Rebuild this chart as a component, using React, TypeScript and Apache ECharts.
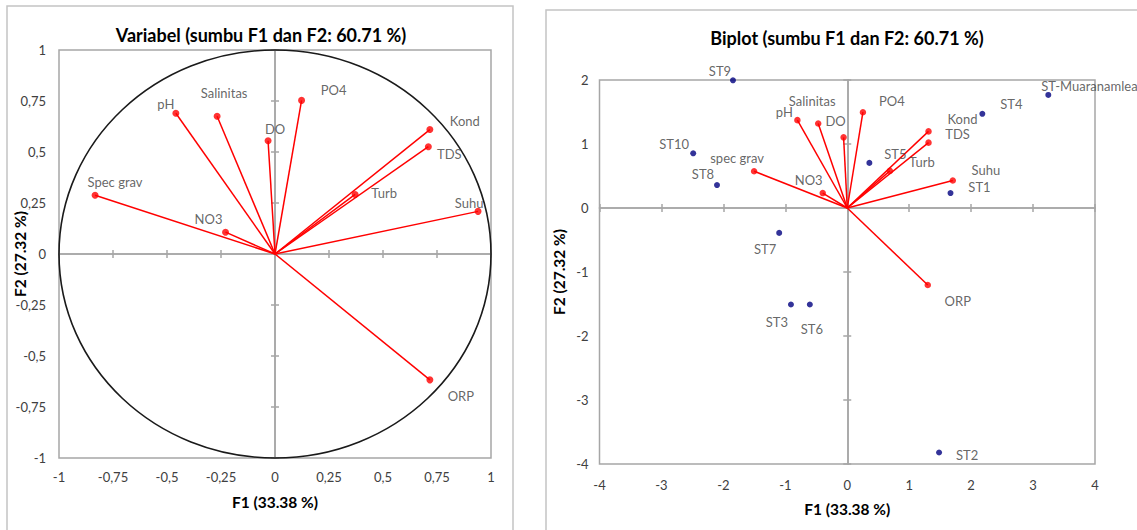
import React, { useEffect, useRef } from "react";
import * as echarts from "echarts";

// ---------- Data ----------
// Correlation circle (Variabel)
const varNames = ["pH", "Salinitas", "DO", "PO4", "Kond", "TDS", "Turb", "Suhu", "Spec grav", "NO3", "ORP"];
const corF1 = [-0.459, -0.268, -0.032, 0.123, 0.717, 0.71, 0.371, 0.94, -0.833, -0.229, 0.717];
const corF2 = [0.69, 0.675, 0.555, 0.753, 0.61, 0.526, 0.292, 0.209, 0.288, 0.107, -0.617];

// Biplot variables
const biVarNames = ["pH", "Salinitas", "DO", "PO4", "Kond", "TDS", "Turb", "Suhu", "spec grav", "NO3", "ORP"];
const biVarF1 = [-0.805, -0.469, -0.059, 0.253, 1.312, 1.312, 0.688, 1.704, -1.504, -0.396, 1.3];
const biVarF2 = [1.373, 1.321, 1.104, 1.497, 1.197, 1.021, 0.58, 0.43, 0.575, 0.233, -1.204];

// Biplot observations
const obsNames = ["ST1", "ST2", "ST3", "ST4", "ST5", "ST6", "ST7", "ST8", "ST9", "ST10", "ST-Muaranamlea"];
const obsF1 = [1.667, 1.482, -0.909, 2.181, 0.357, -0.604, -1.099, -2.103, -1.845, -2.487, 3.246];
const obsF2 = [0.233, -3.82, -1.508, 1.472, 0.705, -1.508, -0.389, 0.358, 1.995, 0.855, 1.767];

// Axis ranges / ticks
const circleMin = -1;
const circleMax = 1;
const circleStep = 0.25;
const biXMin = -4;
const biXMax = 4;
const biYMin = -4;
const biYMax = 2;
const biStep = 1;

const titleLeft = "Variabel (sumbu F1 dan F2: 60.71 %)";
const titleRight = "Biplot (sumbu F1 dan F2: 60.71 %)";
const xTitle = "F1 (33.38 %)";
const yTitle = "F2 (27.32 %)";

// ---------- Label placement (style only) ----------
const corLabelOffsets: number[][] = [
  [-10, -9], [7, -23], [7, -12], [32, -10], [35, -9], [21, 7], [29, -1], [-9, -8], [20, -13], [-17, -13], [31, 16],
];
const biVarLabelOffsets: number[][] = [
  [-13, -8], [-6, -22], [-8, -16], [29, -11], [34, -12], [29, -9], [32, -9], [33, -10.5], [-17, -13], [-14, -13], [30, 16],
];
const obsLabelOffsets: number[][] = [
  [29, -6.5], [28, 3], [-14, 17], [29, -10], [26, -9], [2, 24], [-14, 16], [-14, -11], [-13, -9], [-19, -9], [-7, -9],
];

const FONT = "Lato, 'Open Sans', sans-serif";
const GRID_BORDER = "#a6a6a6";
const LABEL_COLOR = "#404040";

const commaFmt = (v: number) => String(v).replace(".", ",");

function labelAxis(gridIndex: number, min: number, max: number, interval: number, margin: number, name: string, nameGap: number, fmt: (v: number) => string) {
  return {
    type: "value",
    gridIndex,
    min,
    max,
    interval,
    axisLine: { show: false },
    axisTick: { show: false },
    splitLine: { show: false },
    axisLabel: {
      formatter: fmt,
      margin,
      color: LABEL_COLOR,
      fontSize: 13,
      fontFamily: FONT,
      showMinLabel: true,
      showMaxLabel: true,
    },
    name,
    nameLocation: "middle",
    nameGap,
    nameMoveOverlap: false,
    nameTextStyle: { fontWeight: "bold", fontSize: 15.5, color: "#000", fontFamily: FONT },
  };
}

function zeroAxis(gridIndex: number, min: number, max: number, interval: number, onZeroAxisIndex: number, inside: boolean) {
  return {
    type: "value",
    gridIndex,
    min,
    max,
    interval,
    axisLine: { show: true, onZero: true, onZeroAxisIndex, lineStyle: { color: GRID_BORDER, width: 1.5 } },
    axisTick: { show: true, inside, length: 4, lineStyle: { color: GRID_BORDER, width: 1.5 } },
    axisLabel: { show: false },
    splitLine: { show: false },
  };
}

export default function App() {
  const ref = useRef<HTMLDivElement>(null);

  useEffect(() => {
    if (!ref.current) return;
    const chart = echarts.init(ref.current, undefined, { renderer: "svg" });

    const corPoints = varNames.map((n, i) => ({
      name: n,
      value: [corF1[i], corF2[i]],
      label: { offset: corLabelOffsets[i] },
    }));
    const corLines = varNames.map((n, i) => ({ name: n, coords: [[0, 0], [corF1[i], corF2[i]]] }));

    const biPoints = biVarNames.map((n, i) => ({
      name: n,
      value: [biVarF1[i], biVarF2[i]],
      label: { offset: biVarLabelOffsets[i] },
    }));
    const biLines = biVarNames.map((n, i) => ({ name: n, coords: [[0, 0], [biVarF1[i], biVarF2[i]]] }));

    const obsPoints = obsNames.map((n, i) => ({
      name: n,
      value: [obsF1[i], obsF2[i]],
      label: i === obsNames.length - 1 ? { offset: obsLabelOffsets[i], align: "left" } : { offset: obsLabelOffsets[i] },
    }));

    const pointLabel = {
      show: true,
      position: "inside",
      formatter: "{b}",
      color: LABEL_COLOR,
      fontSize: 13,
      fontFamily: FONT,
    };

    const option: any = {
      animation: false,
      graphic: [
        { type: "rect", silent: true, z: -10, shape: { x: 7, y: 6, width: 506, height: 560 }, style: { fill: "none", stroke: "#c4c4c4", lineWidth: 1.5 } },
        { type: "rect", silent: true, z: -10, shape: { x: 546, y: 10, width: 620, height: 560 }, style: { fill: "none", stroke: "#c4c4c4", lineWidth: 1.5 } },
        { type: "text", x: 261, y: 35, style: { text: titleLeft, font: `bold 18px ${FONT}`, fill: "#000", align: "center", verticalAlign: "middle" } },
        { type: "text", x: 847, y: 38, style: { text: titleRight, font: `bold 18px ${FONT}`, fill: "#000", align: "center", verticalAlign: "middle" } },
      ],
      grid: [
        { left: 59, top: 50, width: 432, height: 408, show: true, borderColor: GRID_BORDER, borderWidth: 1.5, backgroundColor: "transparent" },
        { left: 599.5, top: 80, width: 495.5, height: 384, show: true, borderColor: GRID_BORDER, borderWidth: 1.5, backgroundColor: "transparent" },
      ],
      xAxis: [
        { ...labelAxis(0, circleMin, circleMax, circleStep, 12, xTitle, 36, commaFmt), position: "bottom" },
        { ...zeroAxis(0, circleMin, circleMax, circleStep, 0, false), position: "bottom" },
        { ...zeroAxis(0, circleMin, circleMax, circleStep, 0, true), position: "bottom" },
        { ...labelAxis(1, biXMin, biXMax, biStep, 14, xTitle, 37, (v: number) => String(v)), position: "bottom" },
        { ...zeroAxis(1, biXMin, biXMax, biStep, 3, false), position: "bottom" },
        { ...zeroAxis(1, biXMin, biXMax, biStep, 3, true), position: "bottom" },
      ],
      yAxis: [
        { ...labelAxis(0, circleMin, circleMax, circleStep, 13, yTitle, 31, commaFmt), position: "left" },
        { ...zeroAxis(0, circleMin, circleMax, circleStep, 0, false), position: "left" },
        { ...zeroAxis(0, circleMin, circleMax, circleStep, 0, true), position: "left" },
        { ...labelAxis(1, biYMin, biYMax, biStep, 11, yTitle, 33, (v: number) => String(v)), position: "left" },
        { ...zeroAxis(1, biYMin, biYMax, biStep, 3, false), position: "left" },
        { ...zeroAxis(1, biYMin, biYMax, biStep, 3, true), position: "left" },
      ],
      series: [
        {
          type: "custom",
          coordinateSystem: "cartesian2d",
          xAxisIndex: 0,
          yAxisIndex: 0,
          silent: true,
          clip: false,
          data: [[0, 0]],
          renderItem: (_params: any, api: any) => {
            const c = api.coord([0, 0]);
            const s = api.size([1, 1]);
            return {
              type: "ellipse",
              shape: { cx: c[0], cy: c[1], rx: s[0], ry: s[1] },
              style: { fill: "none", stroke: "#1a1a1a", lineWidth: 1.6 },
            };
          },
        },
        {
          type: "lines",
          coordinateSystem: "cartesian2d",
          xAxisIndex: 0,
          yAxisIndex: 0,
          silent: true,
          lineStyle: { color: "#ff0000", width: 1.5, opacity: 1 },
          data: corLines,
        },
        {
          type: "scatter",
          xAxisIndex: 0,
          yAxisIndex: 0,
          symbolSize: 7,
          itemStyle: { color: "#ff0000" },
          label: pointLabel,
          data: corPoints,
        },
        {
          type: "lines",
          coordinateSystem: "cartesian2d",
          xAxisIndex: 3,
          yAxisIndex: 3,
          silent: true,
          lineStyle: { color: "#ff0000", width: 1.5, opacity: 1 },
          data: biLines,
        },
        {
          type: "scatter",
          xAxisIndex: 3,
          yAxisIndex: 3,
          symbolSize: 6.5,
          itemStyle: { color: "#ff0000" },
          label: pointLabel,
          data: biPoints,
        },
        {
          type: "scatter",
          xAxisIndex: 3,
          yAxisIndex: 3,
          symbolSize: 6,
          itemStyle: { color: "#000080" },
          label: pointLabel,
          data: obsPoints,
        },
      ],
    };

    chart.setOption(option);
    return () => chart.dispose();
  }, []);

  return <div ref={ref} style={{ position: "absolute", left: 0, top: 0, width: 1137, height: 530 }} />;
}
